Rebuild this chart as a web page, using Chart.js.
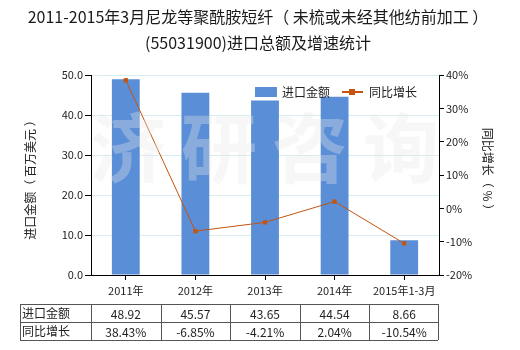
<!DOCTYPE html>
<html>
<head>
<meta charset="utf-8">
<script src="https://cdn.jsdelivr.net/npm/chart.js@4.4.0/dist/chart.umd.min.js"></script>
<style>
  html, body { margin: 0; padding: 0; background: #fff; }
  #wrap { width: 520px; height: 350px; }
</style>
</head>
<body>
<div id="wrap"><canvas id="importChart" width="520" height="350"></canvas></div>
<script>
// data
const categories = ["2011年", "2012年", "2013年", "2014年", "2015年1-3月"];
const importValues = [48.92, 45.57, 43.65, 44.54, 8.66];
const growthRates = [38.43, -6.85, -4.21, 2.04, -10.54];
const importLabels = ["48.92", "45.57", "43.65", "44.54", "8.66"];
const growthLabels = ["38.43%", "-6.85%", "-4.21%", "2.04%", "-10.54%"];

const FONT = "'Noto Sans CJK SC', 'Noto Sans', sans-serif";
const barColor = "#5a8ed6";
const lineColor = "#c4540f";

// title, axis titles, legend, watermark and the table under the axis
const extras = {
    id: "extras",
    afterDatasetsDraw(chart) {
        const ctx = chart.ctx;
        ctx.save();
        ctx.fillStyle = "rgba(232,232,232,0.34)";
        ctx.font = "bold 76px " + FONT;
        ctx.textAlign = "center";
        ctx.textBaseline = "middle";
        ["济", "研", "咨", "询"].forEach(function (ch, i) {
            ctx.fillText(ch, 128 + i * 91, 148);
        });
        ctx.restore();
    },
    afterDraw(chart) {
        const ctx = chart.ctx;
        const x = chart.scales.x;
        ctx.save();

        // title
        ctx.fillStyle = "#1a1a1a";
        ctx.font = "16px " + FONT;
        ctx.textAlign = "center";
        ctx.textBaseline = "middle";
        ctx.fillText("2011-2015年3月尼龙等聚酰胺短纤（ 未梳或未经其他纺前加工 ）", 258, 17);
        ctx.fillText("(55031900)进口总额及增速统计", 258, 43);

        // axis titles
        ctx.font = "12px " + FONT;
        ctx.fillStyle = "#222";
        ctx.save();
        ctx.translate(30, 177);
        ctx.rotate(-Math.PI / 2);
        ctx.fillText("进口金额（ 百万美元 ）", 0, 0);
        ctx.restore();
        ctx.save();
        ctx.translate(488, 172);
        ctx.rotate(Math.PI / 2);
        ctx.fillText("同比增长（ % ）", 0, 0);
        ctx.restore();

        // legend
        ctx.fillStyle = barColor;
        ctx.fillRect(255, 87, 22, 10);
        ctx.fillStyle = "#222";
        ctx.textAlign = "left";
        ctx.fillText("进口金额", 282, 92);
        ctx.strokeStyle = lineColor;
        ctx.lineWidth = 2;
        ctx.beginPath();
        ctx.moveTo(342, 92);
        ctx.lineTo(363, 92);
        ctx.stroke();
        ctx.fillStyle = lineColor;
        ctx.fillRect(349, 89, 6, 6);
        ctx.fillStyle = "#222";
        ctx.fillText("同比增长", 369, 92);

        // table
        const top = 304, rowH = 18, left = 20, right = 438;
        const step = x.getPixelForValue(1) - x.getPixelForValue(0);
        const edges = [left];
        categories.forEach(function (c, i) {
            edges.push(x.getPixelForValue(i) - step / 2);
        });
        edges.push(right);
        ctx.strokeStyle = "#555";
        ctx.lineWidth = 1;
        ctx.beginPath();
        for (let r = 0; r <= 2; r++) {
            ctx.moveTo(left, top + r * rowH + 0.5);
            ctx.lineTo(right, top + r * rowH + 0.5);
        }
        edges.forEach(function (e) {
            const px = Math.round(e) + 0.5;
            ctx.moveTo(px, top);
            ctx.lineTo(px, top + 2 * rowH);
        });
        ctx.stroke();

        ctx.fillStyle = "#222";
        ctx.font = "12px " + FONT;
        ctx.textAlign = "left";
        ctx.fillText("进口金额", left + 2, top + rowH / 2);
        ctx.fillText("同比增长", left + 2, top + rowH * 1.5);
        ctx.textAlign = "center";
        categories.forEach(function (c, i) {
            const cx = x.getPixelForValue(i);
            ctx.fillText(importLabels[i], cx, top + rowH / 2 + 1);
            ctx.fillText(growthLabels[i], cx, top + rowH * 1.5 + 1);
        });
        ctx.restore();
    }
};

const chartCanvas = document.getElementById("importChart");

new Chart(chartCanvas, {
    type: "bar",
    data: {
        labels: categories,
        datasets: [
            {
                type: "line",
                label: "同比增长",
                data: growthRates,
                yAxisID: "y2",
                borderColor: lineColor,
                backgroundColor: lineColor,
                borderWidth: 1,
                pointStyle: "rect",
                pointRadius: 3,
                pointBorderWidth: 0,
                tension: 0,
                order: 0,
            },
            {
                label: "进口金额",
                data: importValues,
                yAxisID: "y",
                backgroundColor: barColor,
                categoryPercentage: 1,
                barPercentage: 0.4,
                order: 1,
            },
        ],
    },
    plugins: [extras],
    options: {
        responsive: false,
        animation: false,
        devicePixelRatio: 1,
        layout: { padding: { top: 75, bottom: 45, left: 0, right: 0 } },
        plugins: {
            legend: { display: false },
            title: { display: false },
            tooltip: { enabled: false },
        },
        scales: {
            x: {
                afterFit(scale) { scale.height = 30; },
                grid: {
                    offset: false,
                    drawOnChartArea: false,
                    tickColor: "#000",
                    tickLength: 5,
                },
                border: { color: "#000" },
                ticks: { color: "#222", font: { family: FONT, size: 11 }, padding: 4 },
            },
            y: {
                position: "left",
                min: 0,
                max: 50,
                afterFit(scale) { scale.width = 91; },
                ticks: {
                    stepSize: 10,
                    color: "#222",
                    font: { family: FONT, size: 11 },
                    padding: 2,
                    callback: function (v) { return v.toFixed(1); },
                },
                grid: { color: "#d6eef0", tickColor: "#000", tickLength: 6 },
                border: { color: "#000" },
            },
            y2: {
                position: "right",
                min: -20,
                max: 40,
                afterFit(scale) { scale.width = 81; },
                ticks: {
                    stepSize: 10,
                    color: "#222",
                    font: { family: FONT, size: 11 },
                    padding: 2,
                    callback: function (v) { return v + "%"; },
                },
                grid: { drawOnChartArea: false, tickColor: "#000", tickLength: 5 },
                border: { color: "#000" },
            },
        },
    },
});
</script>
</body>
</html>
